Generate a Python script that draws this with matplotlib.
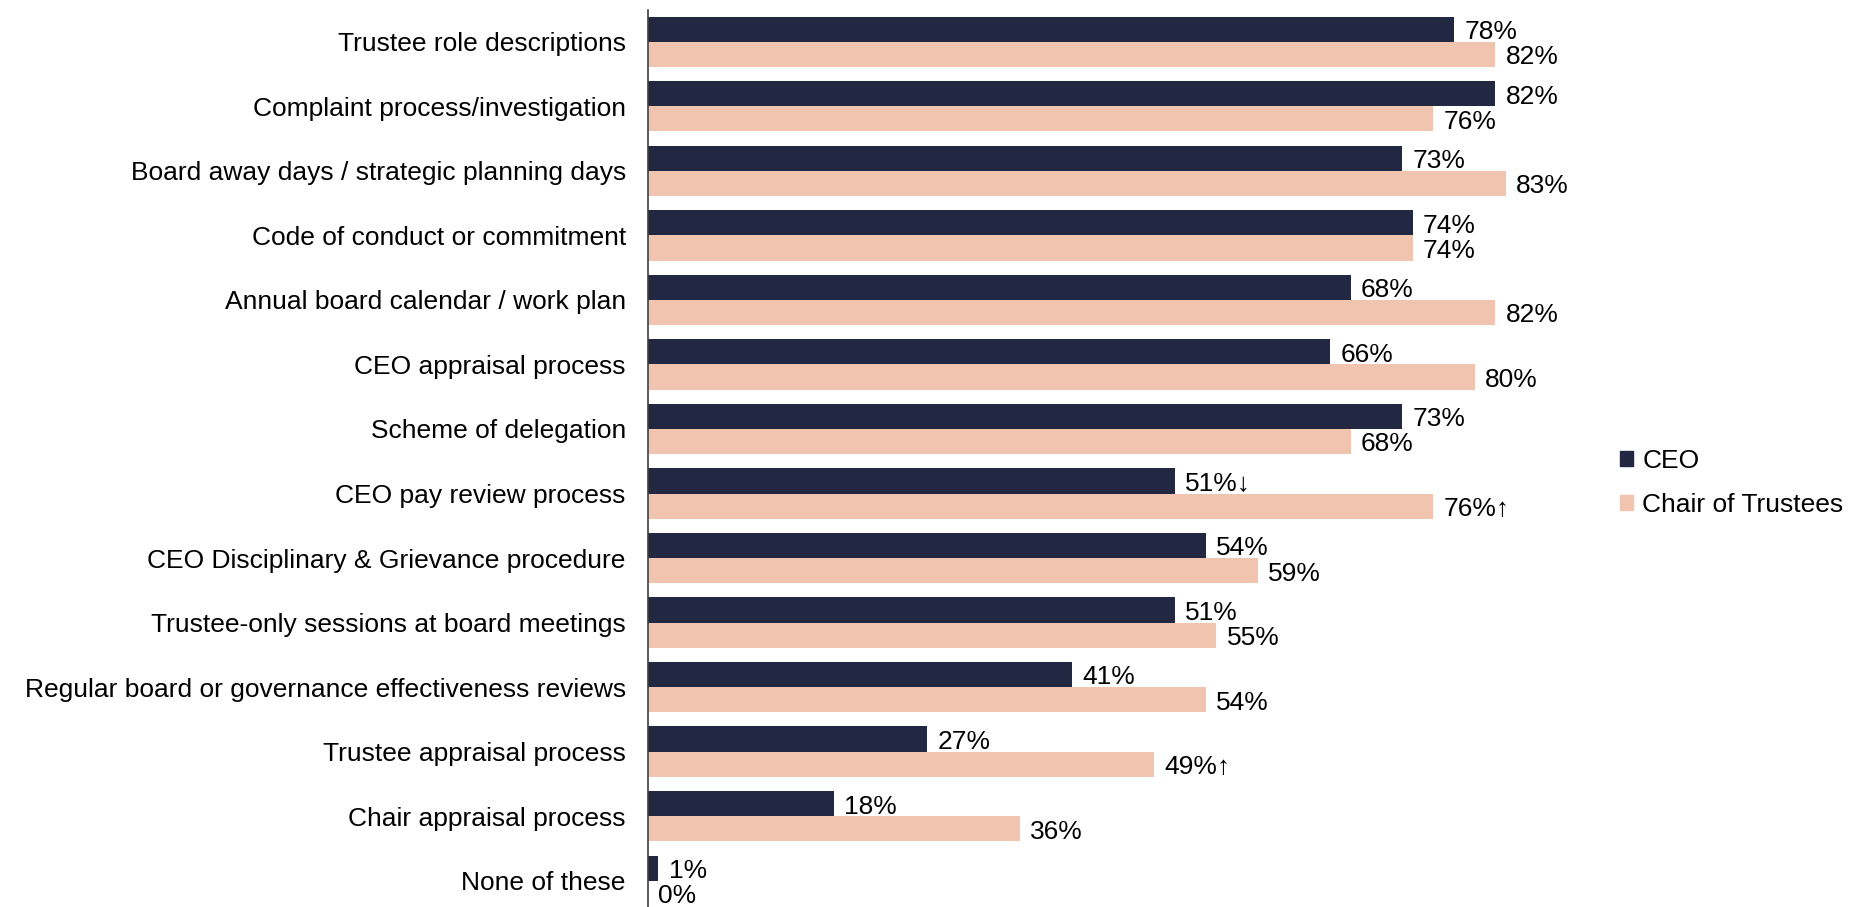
import numpy as np
import matplotlib
matplotlib.use("Agg")
import matplotlib.pyplot as plt
from matplotlib.patches import Patch

plt.rcParams['font.family'] = ['Liberation Sans', 'DejaVu Sans']

categories = [
    "Trustee role descriptions",
    "Complaint process/investigation",
    "Board away days / strategic planning days",
    "Code of conduct or commitment",
    "Annual board calendar / work plan",
    "CEO appraisal process",
    "Scheme of delegation",
    "CEO pay review process",
    "CEO Disciplinary & Grievance procedure",
    "Trustee-only sessions at board meetings",
    "Regular board or governance effectiveness reviews",
    "Trustee appraisal process",
    "Chair appraisal process",
    "None of these",
]
ceo = [78, 82, 73, 74, 68, 66, 73, 51, 54, 51, 41, 27, 18, 1]
chair = [82, 76, 83, 74, 82, 80, 68, 76, 59, 55, 54, 49, 36, 0]
# significance markers appended to some labels
ceo_marks = ["", "", "", "", "", "", "", "↓", "", "", "", "", "", ""]
chair_marks = ["", "", "", "", "", "", "", "↑", "", "", "", "↑", "", ""]

ceo_color = "#222842"
chair_color = "#F1C4AF"
fs = 19

fig = plt.figure(figsize=(18.72, 9.07), dpi=100)
ax = fig.add_axes([648 / 1872, -6 / 907, 930 / 1872, 903.5 / 907])

y = np.arange(len(categories))
h = 0.39
ax.barh(y - h / 2, ceo, height=h, color=ceo_color, label="CEO")
ax.barh(y + h / 2, chair, height=h, color=chair_color, label="Chair of Trustees")

dy = 0.045
for i in range(len(categories)):
    ax.text(ceo[i] + 1.0, y[i] - h / 2 + dy, f"{ceo[i]}%{ceo_marks[i]}",
            va="center", ha="left", fontsize=fs)
    ax.text(chair[i] + 1.0, y[i] + h / 2 + dy, f"{chair[i]}%{chair_marks[i]}",
            va="center", ha="left", fontsize=fs)

ax.set_xlim(0, 90)
ax.set_ylim(len(categories) - 0.5, -0.5)
ax.set_yticks(y)
ax.set_yticklabels(categories, fontsize=fs)
ax.tick_params(axis="y", length=0, pad=16)
ax.set_xticks([])
for side in ["top", "right", "bottom"]:
    ax.spines[side].set_visible(False)
ax.spines["left"].set_color("#404040")
ax.spines["left"].set_linewidth(1.2)

handles = [Patch(color=ceo_color, label="CEO"),
           Patch(color=chair_color, label="Chair of Trustees")]
fig.legend(handles=handles, loc="center left", bbox_to_anchor=(1596 / 1872, 1 - 483 / 907),
           frameon=False, fontsize=fs, handlelength=0.5, handleheight=0.5,
           handletextpad=0.35, labelspacing=0.75)

fig.savefig("out.png", dpi=100)
